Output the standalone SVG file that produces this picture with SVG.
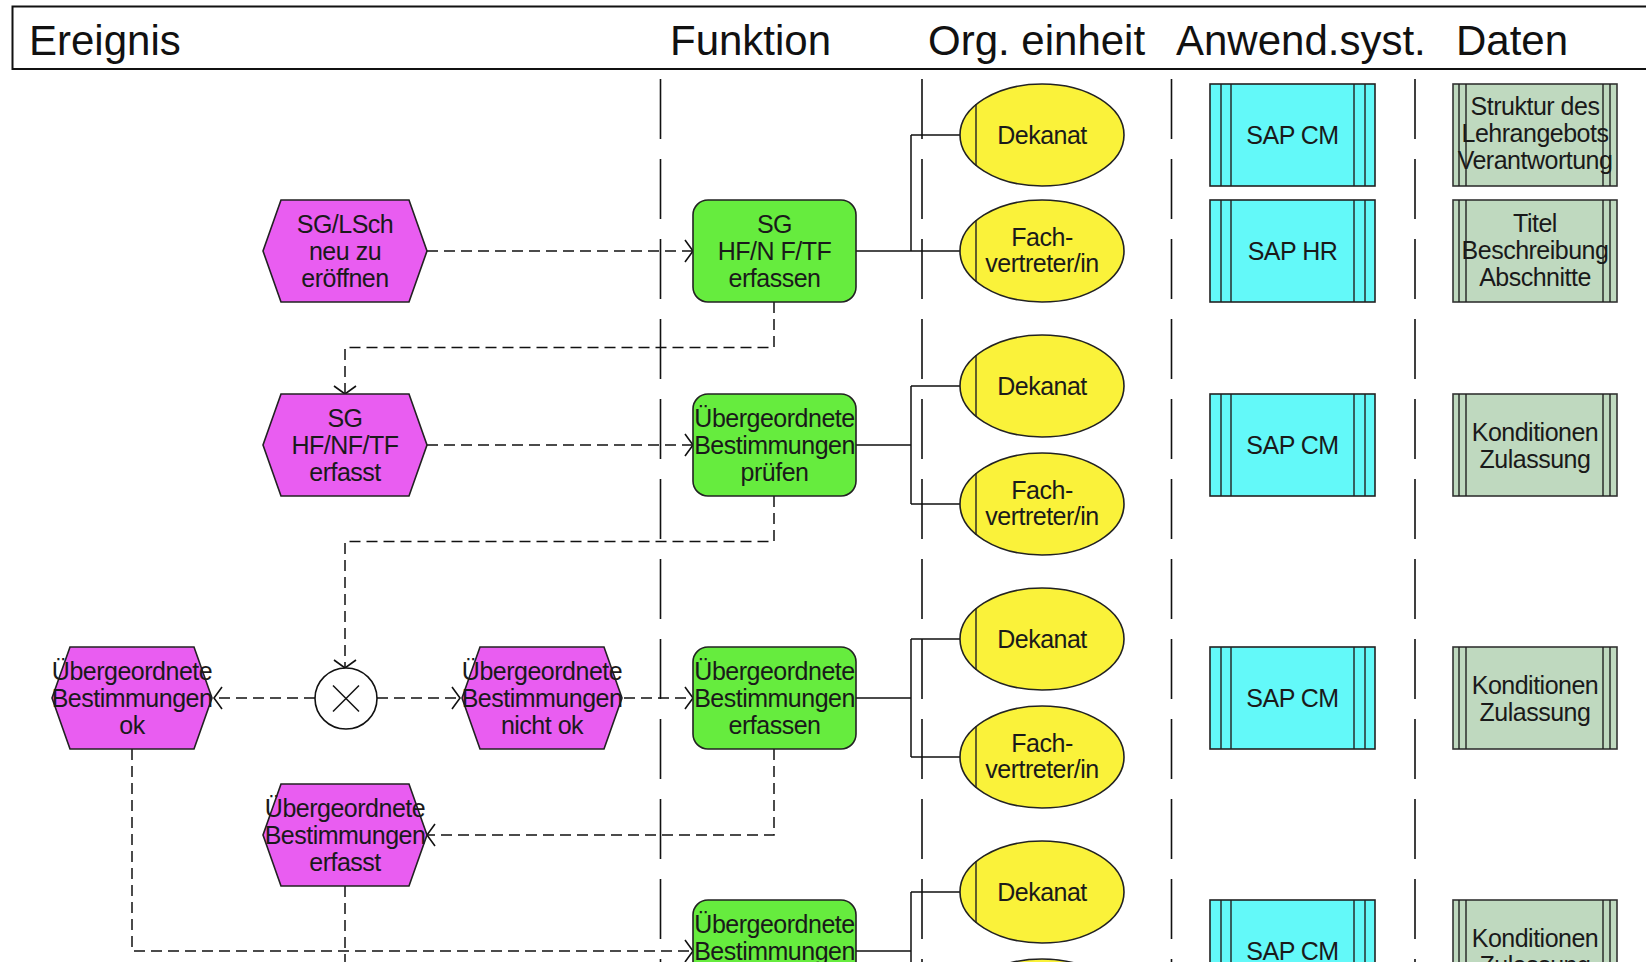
<svg xmlns="http://www.w3.org/2000/svg" width="1646" height="962" viewBox="0 0 1646 962">
<defs>
<style>
.hdr{font-family:"Liberation Sans",Arial,sans-serif;font-size:42px;fill:#111}
.t{font-family:"Liberation Sans",Arial,sans-serif;font-size:25px;letter-spacing:-0.5px;fill:#1a1a1a;text-anchor:middle}
.ev{fill:#E95DF1;stroke:#222;stroke-width:1.6}
.fn{fill:#66EC3E;stroke:#222;stroke-width:1.6}
.org{fill:#FAF23A;stroke:#222;stroke-width:1.6}
.app{fill:#63F9F9;stroke:#222;stroke-width:1.6}
.dat{fill:#BFD9BF;stroke:#333;stroke-width:1.6}
.in{stroke:#222;stroke-width:1.4;fill:none}
.lane{stroke:#111;stroke-width:1.6;stroke-dasharray:60 20;fill:none}
.flow{stroke:#111;stroke-width:1.5;stroke-dasharray:11 6;fill:none}
.solid{stroke:#111;stroke-width:1.5;fill:none}
</style>
<marker id="arr" markerUnits="userSpaceOnUse" markerWidth="12" markerHeight="24" refX="9" refY="11" orient="auto" overflow="visible">
<path d="M1,0 L9,11 L1,22" fill="none" stroke="#111" stroke-width="1.6"/>
</marker>
</defs>
<rect width="1646" height="962" fill="#fff"/>
<g id="header">
<rect x="12.5" y="6.5" width="1660" height="62.5" fill="#fff" stroke="#111" stroke-width="2"/>
<text class="hdr" x="29" y="55">Ereignis</text>
<text class="hdr" x="670" y="55">Funktion</text>
<text class="hdr" x="928" y="55">Org. einheit</text>
<text class="hdr" x="1176" y="55">Anwend.syst.</text>
<text class="hdr" x="1456" y="55">Daten</text>
</g>
<g id="lanes">
<path class="lane" d="M660.5,79V962M922,79V962M1171.5,79V962M1415,79V962"/>
</g>
<g id="connectors">
<path class="flow" d="M427,251H693" marker-end="url(#arr)"/>
<path class="flow" d="M774,302V347.5H345V394" marker-end="url(#arr)"/>
<path class="flow" d="M427,445H693" marker-end="url(#arr)"/>
<path class="flow" d="M774,496V541.5H345V668" marker-end="url(#arr)"/>
<path class="flow" d="M315,698H214" marker-end="url(#arr)"/>
<path class="flow" d="M377,698H460" marker-end="url(#arr)"/>
<path class="flow" d="M624,698H693" marker-end="url(#arr)"/>
<path class="flow" d="M774,749V835H427" marker-end="url(#arr)"/>
<path class="flow" d="M345,886V962"/>
<path class="flow" d="M132,749V951H693" marker-end="url(#arr)"/>
<path class="solid" d="M856,251H911M911,135V251M911,135H960M911,251H960"/>
<path class="solid" d="M856,445H911M911,386V504M911,386H960M911,504H960"/>
<path class="solid" d="M856,698H911M911,639V757M911,639H960M911,757H960"/>
<path class="solid" d="M856,951H911M911,892V1010M911,892H960M911,1010H960"/>
</g>
<g id="e1"><path class="ev" d="M281,200H409L427,251L409,302H281L263,251Z"/>
<text class="t" x="345" y="233">SG/LSch</text><text class="t" x="345" y="260">neu zu</text><text class="t" x="345" y="287">eröffnen</text></g>
<g id="e2"><path class="ev" d="M281,394H409L427,445L409,496H281L263,445Z"/>
<text class="t" x="345" y="427">SG</text><text class="t" x="345" y="454">HF/NF/TF</text><text class="t" x="345" y="481">erfasst</text></g>
<g id="e3a"><path class="ev" d="M70,647H194L212,698L194,749H70L52,698Z"/>
<text class="t" x="132" y="680">Übergeordnete</text><text class="t" x="132" y="707">Bestimmungen</text><text class="t" x="132" y="734">ok</text></g>
<g id="xor"><ellipse cx="346" cy="698.5" rx="31" ry="30.5" fill="#fff" stroke="#111" stroke-width="1.6"/>
<path class="solid" d="M333,685.5L359,711.5M359,685.5L333,711.5"/></g>
<g id="e3b"><path class="ev" d="M480,647H604L622,698L604,749H480L462,698Z"/>
<text class="t" x="542" y="680">Übergeordnete</text><text class="t" x="542" y="707">Bestimmungen</text><text class="t" x="542" y="734">nicht ok</text></g>
<g id="e4"><path class="ev" d="M281,784H409L427,835L409,886H281L263,835Z"/>
<text class="t" x="345" y="817">Übergeordnete</text><text class="t" x="345" y="844">Bestimmungen</text><text class="t" x="345" y="871">erfasst</text></g>
<g id="f1"><rect class="fn" x="693" y="200" width="163" height="102" rx="15"/>
<text class="t" x="774.5" y="233">SG</text><text class="t" x="774.5" y="260">HF/N F/TF</text><text class="t" x="774.5" y="287">erfassen</text></g>
<g id="f2"><rect class="fn" x="693" y="394" width="163" height="102" rx="15"/>
<text class="t" x="774.5" y="427">Übergeordnete</text><text class="t" x="774.5" y="454">Bestimmungen</text><text class="t" x="774.5" y="481">prüfen</text></g>
<g id="f3"><rect class="fn" x="693" y="647" width="163" height="102" rx="15"/>
<text class="t" x="774.5" y="680">Übergeordnete</text><text class="t" x="774.5" y="707">Bestimmungen</text><text class="t" x="774.5" y="734">erfassen</text></g>
<g id="f4"><rect class="fn" x="693" y="900" width="163" height="102" rx="15"/>
<text class="t" x="774.5" y="933">Übergeordnete</text><text class="t" x="774.5" y="960">Bestimmungen</text></g>
<g id="o1a"><ellipse class="org" cx="1042" cy="135" rx="82" ry="51"/><path class="in" d="M976,104V166"/><text class="t" x="1042" y="144">Dekanat</text></g>
<g id="o1b"><ellipse class="org" cx="1042" cy="251" rx="82" ry="51"/><path class="in" d="M976,220V282"/><text class="t" x="1042" y="246">Fach-</text><text class="t" x="1042" y="272">vertreter/in</text></g>
<g id="o2a"><ellipse class="org" cx="1042" cy="386" rx="82" ry="51"/><path class="in" d="M976,355V417"/><text class="t" x="1042" y="395">Dekanat</text></g>
<g id="o2b"><ellipse class="org" cx="1042" cy="504" rx="82" ry="51"/><path class="in" d="M976,473V535"/><text class="t" x="1042" y="499">Fach-</text><text class="t" x="1042" y="525">vertreter/in</text></g>
<g id="o3a"><ellipse class="org" cx="1042" cy="639" rx="82" ry="51"/><path class="in" d="M976,608V670"/><text class="t" x="1042" y="648">Dekanat</text></g>
<g id="o3b"><ellipse class="org" cx="1042" cy="757" rx="82" ry="51"/><path class="in" d="M976,726V788"/><text class="t" x="1042" y="752">Fach-</text><text class="t" x="1042" y="778">vertreter/in</text></g>
<g id="o4a"><ellipse class="org" cx="1042" cy="892" rx="82" ry="51"/><path class="in" d="M976,861V923"/><text class="t" x="1042" y="901">Dekanat</text></g>
<g id="o4b"><ellipse class="org" cx="1042" cy="1010" rx="82" ry="51"/><path class="in" d="M976,979V1041"/></g>
<g id="a1a"><rect class="app" x="1210" y="84" width="165" height="102"/><path class="in" d="M1221,84V186M1231,84V186M1354,84V186M1365,84V186"/><text class="t" x="1292.5" y="144">SAP CM</text></g>
<g id="a1b"><rect class="app" x="1210" y="200" width="165" height="102"/><path class="in" d="M1221,200V302M1231,200V302M1354,200V302M1365,200V302"/><text class="t" x="1292.5" y="260">SAP HR</text></g>
<g id="a2"><rect class="app" x="1210" y="394" width="165" height="102"/><path class="in" d="M1221,394V496M1231,394V496M1354,394V496M1365,394V496"/><text class="t" x="1292.5" y="454">SAP CM</text></g>
<g id="a3"><rect class="app" x="1210" y="647" width="165" height="102"/><path class="in" d="M1221,647V749M1231,647V749M1354,647V749M1365,647V749"/><text class="t" x="1292.5" y="707">SAP CM</text></g>
<g id="a4"><rect class="app" x="1210" y="900" width="165" height="102"/><path class="in" d="M1221,900V1002M1231,900V1002M1354,900V1002M1365,900V1002"/><text class="t" x="1292.5" y="960">SAP CM</text></g>
<g id="d1a"><rect class="dat" x="1453" y="84" width="164" height="102"/><path class="in" d="M1459,84V186M1466,84V186M1603,84V186M1610,84V186"/><text class="t" x="1535" y="115">Struktur des</text><text class="t" x="1535" y="142">Lehrangebots</text><text class="t" x="1535" y="169">Verantwortung</text></g>
<g id="d1b"><rect class="dat" x="1453" y="200" width="164" height="102"/><path class="in" d="M1459,200V302M1466,200V302M1603,200V302M1610,200V302"/><text class="t" x="1535" y="232">Titel</text><text class="t" x="1535" y="259">Beschreibung</text><text class="t" x="1535" y="286">Abschnitte</text></g>
<g id="d2"><rect class="dat" x="1453" y="394" width="164" height="102"/><path class="in" d="M1459,394V496M1466,394V496M1603,394V496M1610,394V496"/><text class="t" x="1535" y="441">Konditionen</text><text class="t" x="1535" y="468">Zulassung</text></g>
<g id="d3"><rect class="dat" x="1453" y="647" width="164" height="102"/><path class="in" d="M1459,647V749M1466,647V749M1603,647V749M1610,647V749"/><text class="t" x="1535" y="694">Konditionen</text><text class="t" x="1535" y="721">Zulassung</text></g>
<g id="d4"><rect class="dat" x="1453" y="900" width="164" height="102"/><path class="in" d="M1459,900V1002M1466,900V1002M1603,900V1002M1610,900V1002"/><text class="t" x="1535" y="947">Konditionen</text><text class="t" x="1535" y="974">Zulassung</text></g>
</svg>
